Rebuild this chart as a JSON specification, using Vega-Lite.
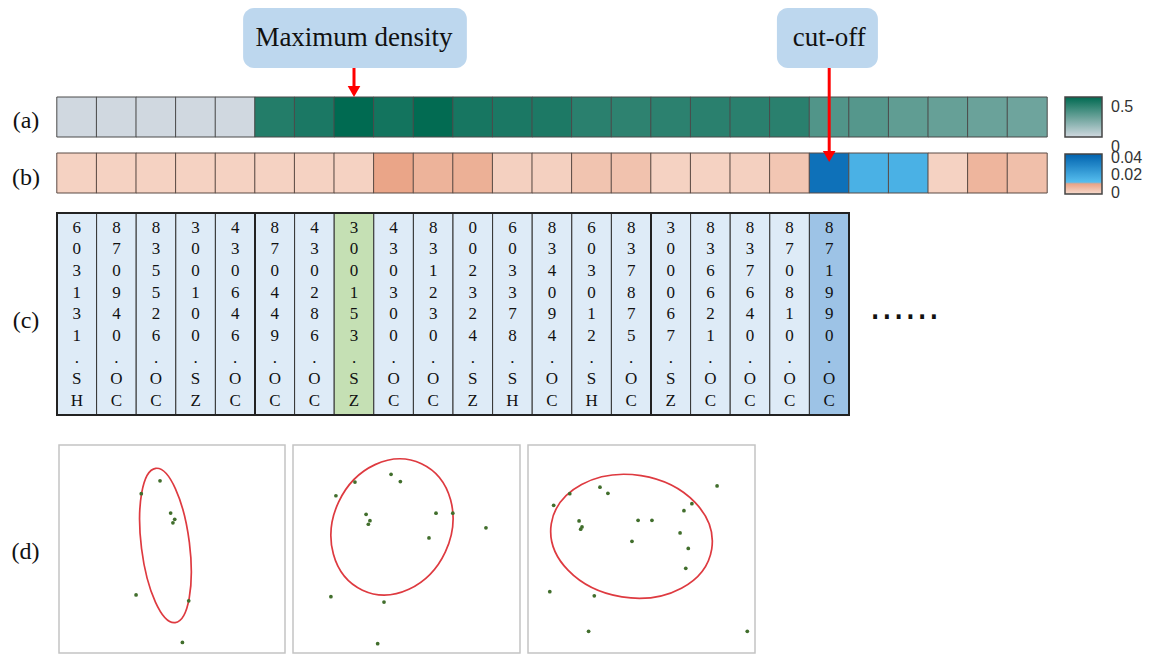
{
  "$schema": "https://vega.github.io/schema/vega-lite/v6.json",
  "background": "white",
  "padding": 0,
  "bounds": "flush",
  "spacing": 0,
  "config": {"view": {"stroke": null}, "font": "Liberation Serif"},
  "datasets": {
    "cells": [
      {"col": 0, "density": 0, "delta": 0.0004},
      {"col": 1, "density": 0, "delta": 0.0004},
      {"col": 2, "density": 0, "delta": 0.0004},
      {"col": 3, "density": 0, "delta": 0.0004},
      {"col": 4, "density": 0, "delta": 0.0004},
      {"col": 5, "density": 0.56, "delta": 0.0004},
      {"col": 6, "density": 0.587, "delta": 0.0004},
      {"col": 7, "density": 0.675, "delta": 0.0004},
      {"col": 8, "density": 0.614, "delta": 0.0097},
      {"col": 9, "density": 0.668, "delta": 0.0068},
      {"col": 10, "density": 0.6, "delta": 0.0075},
      {"col": 11, "density": 0.587, "delta": 0.0008},
      {"col": 12, "density": 0.58, "delta": 0.0008},
      {"col": 13, "density": 0.54, "delta": 0.0033},
      {"col": 14, "density": 0.527, "delta": 0.0037},
      {"col": 15, "density": 0.533, "delta": 0.0004},
      {"col": 16, "density": 0.54, "delta": 0.0004},
      {"col": 17, "density": 0.54, "delta": 0.0008},
      {"col": 18, "density": 0.54, "delta": 0.0029},
      {"col": 19, "density": 0.412, "delta": 0.0387},
      {"col": 20, "density": 0.398, "delta": 0.0164},
      {"col": 21, "density": 0.365, "delta": 0.0164},
      {"col": 22, "density": 0.344, "delta": 0.0004},
      {"col": 23, "density": 0.331, "delta": 0.0064},
      {"col": 24, "density": 0.317, "delta": 0.0043}
    ],
    "stocks": [
      {"col": 0, "ticker": "603131.SH", "role": "other", "lines": ["6","0","3","1","3","1",".","S","H"]},
      {"col": 1, "ticker": "870940.OC", "role": "other", "lines": ["8","7","0","9","4","0",".","O","C"]},
      {"col": 2, "ticker": "835526.OC", "role": "other", "lines": ["8","3","5","5","2","6",".","O","C"]},
      {"col": 3, "ticker": "300100.SZ", "role": "other", "lines": ["3","0","0","1","0","0",".","S","Z"]},
      {"col": 4, "ticker": "430646.OC", "role": "other", "lines": ["4","3","0","6","4","6",".","O","C"]},
      {"col": 5, "ticker": "870449.OC", "role": "other", "lines": ["8","7","0","4","4","9",".","O","C"]},
      {"col": 6, "ticker": "430286.OC", "role": "other", "lines": ["4","3","0","2","8","6",".","O","C"]},
      {"col": 7, "ticker": "300153.SZ", "role": "max", "lines": ["3","0","0","1","5","3",".","S","Z"]},
      {"col": 8, "ticker": "430300.OC", "role": "other", "lines": ["4","3","0","3","0","0",".","O","C"]},
      {"col": 9, "ticker": "831230.OC", "role": "other", "lines": ["8","3","1","2","3","0",".","O","C"]},
      {"col": 10, "ticker": "002324.SZ", "role": "other", "lines": ["0","0","2","3","2","4",".","S","Z"]},
      {"col": 11, "ticker": "603378.SH", "role": "other", "lines": ["6","0","3","3","7","8",".","S","H"]},
      {"col": 12, "ticker": "834094.OC", "role": "other", "lines": ["8","3","4","0","9","4",".","O","C"]},
      {"col": 13, "ticker": "603012.SH", "role": "other", "lines": ["6","0","3","0","1","2",".","S","H"]},
      {"col": 14, "ticker": "837875.OC", "role": "other", "lines": ["8","3","7","8","7","5",".","O","C"]},
      {"col": 15, "ticker": "300067.SZ", "role": "other", "lines": ["3","0","0","0","6","7",".","S","Z"]},
      {"col": 16, "ticker": "836621.OC", "role": "other", "lines": ["8","3","6","6","2","1",".","O","C"]},
      {"col": 17, "ticker": "837640.OC", "role": "other", "lines": ["8","3","7","6","4","0",".","O","C"]},
      {"col": 18, "ticker": "870810.OC", "role": "other", "lines": ["8","7","0","8","1","0",".","O","C"]},
      {"col": 19, "ticker": "871990.OC", "role": "cutoff", "lines": ["8","7","1","9","9","0",".","O","C"]}
    ],
    "callouts": [
      {"label": "Maximum density", "col": 7, "x0": 4.2, "x1": 9.85, "tip": 9.7},
      {"label": "cut-off", "col": 19, "x0": 17.68, "x1": 20.23, "tip": 16.2}
    ],
    "rowlabels": [
      {"label": "(a)", "ypos": 12.1},
      {"label": "(b)", "ypos": 17.8},
      {"label": "(c)", "ypos": 32.1}
    ],
    "clusters": [
      {"panel": 1, "x": 4.47, "y": 8.28}, {"panel": 1, "x": 3.64, "y": 7.66}, {"panel": 1, "x": 4.94, "y": 6.73},
      {"panel": 1, "x": 5.12, "y": 6.43}, {"panel": 1, "x": 5.04, "y": 6.26}, {"panel": 1, "x": 3.41, "y": 2.79},
      {"panel": 1, "x": 5.74, "y": 2.51}, {"panel": 1, "x": 5.46, "y": 0.51},
      {"panel": 2, "x": 4.32, "y": 8.59}, {"panel": 2, "x": 2.73, "y": 8.22}, {"panel": 2, "x": 4.73, "y": 8.24},
      {"panel": 2, "x": 1.89, "y": 7.56}, {"panel": 2, "x": 3.22, "y": 6.67}, {"panel": 2, "x": 3.39, "y": 6.36},
      {"panel": 2, "x": 3.32, "y": 6.19}, {"panel": 2, "x": 6.3, "y": 6.72}, {"panel": 2, "x": 7.04, "y": 6.72},
      {"panel": 2, "x": 8.5, "y": 6.02}, {"panel": 2, "x": 5.99, "y": 5.53}, {"panel": 2, "x": 1.67, "y": 2.71},
      {"panel": 2, "x": 4.01, "y": 2.45}, {"panel": 2, "x": 3.73, "y": 0.45},
      {"panel": 3, "x": 8.33, "y": 8.03}, {"panel": 3, "x": 3.17, "y": 7.97}, {"panel": 3, "x": 1.84, "y": 7.66},
      {"panel": 3, "x": 3.52, "y": 7.68}, {"panel": 3, "x": 1.13, "y": 7.1}, {"panel": 3, "x": 7.22, "y": 7.18},
      {"panel": 3, "x": 6.87, "y": 6.84}, {"panel": 3, "x": 2.25, "y": 6.35}, {"panel": 3, "x": 4.85, "y": 6.38},
      {"panel": 3, "x": 5.46, "y": 6.38}, {"panel": 3, "x": 2.38, "y": 6.06}, {"panel": 3, "x": 2.32, "y": 5.95},
      {"panel": 3, "x": 6.7, "y": 5.77}, {"panel": 3, "x": 4.58, "y": 5.37}, {"panel": 3, "x": 7.06, "y": 5.03},
      {"panel": 3, "x": 6.95, "y": 4.07}, {"panel": 3, "x": 0.96, "y": 2.95}, {"panel": 3, "x": 2.92, "y": 2.75},
      {"panel": 3, "x": 2.67, "y": 1.04}, {"panel": 3, "x": 9.66, "y": 1.04}
    ]
  },
  "vconcat": [
    {
      "width": 1160,
      "height": 445,
      "view": {"stroke": null},
      "layer": [
        {
          "data": {"name": "callouts"},
          "mark": {"type": "rect", "fill": "#bdd7ee", "cornerRadius": 11},
          "encoding": {
            "x": {"field": "x0", "type": "quantitative", "scale": {"domain": [-1.9394, 27.3535], "nice": false, "zero": false}, "axis": null},
            "x2": {"field": "x1"},
            "y": {"datum": 0.8, "type": "quantitative", "scale": {"domain": [0, 44.5], "reverse": true, "nice": false, "zero": false}, "axis": null},
            "y2": {"datum": 6.8}
          }
        },
        {
          "data": {"name": "callouts"},
          "mark": {"type": "text", "font": "Liberation Serif", "fontSize": 27, "color": "#111111", "baseline": "middle"},
          "encoding": {
            "x": {"field": "col", "type": "quantitative", "scale": {"domain": [-1.9394, 27.3535], "nice": false, "zero": false}, "axis": null},
            "y": {"datum": 3.8, "type": "quantitative", "scale": {"domain": [0, 44.5], "reverse": true, "nice": false, "zero": false}, "axis": null},
            "text": {"field": "label", "type": "nominal"}
          }
        },
        {
          "data": {"name": "cells"},
          "mark": {"type": "square", "size": 1600, "filled": true, "stroke": "#4a4a4a", "strokeWidth": 1, "opacity": 1},
          "encoding": {
            "x": {"field": "col", "type": "quantitative", "scale": {"domain": [-1.9394, 27.3535], "nice": false, "zero": false}, "axis": null},
            "y": {"datum": 11.7, "type": "quantitative", "scale": {"domain": [0, 44.5], "reverse": true, "nice": false, "zero": false}, "axis": null},
            "color": {
              "field": "density", "type": "quantitative",
              "scale": {"domain": [0, 0.675], "range": ["#d0d8e0", "#006a51"], "interpolate": "rgb", "clamp": true},
              "legend": {"orient": "none", "legendX": 1065, "legendY": 97, "direction": "vertical", "title": null,
                "gradientLength": 40, "gradientThickness": 37, "values": [0, 0.5], "format": "~g",
                "labelExpr": "datum.value === 0 ? ['', datum.label] : datum.label",
                "labelFont": "Liberation Sans", "labelFontSize": 16, "labelColor": "#333333", "labelOffset": 9,
                "labelOverlap": false, "gradientStrokeColor": "#444444", "gradientStrokeWidth": 1.5, "padding": 0}
            }
          }
        },
        {
          "data": {"name": "cells"},
          "mark": {"type": "square", "size": 1600, "filled": true, "stroke": "#5a4a44", "strokeWidth": 1, "opacity": 1},
          "encoding": {
            "x": {"field": "col", "type": "quantitative", "scale": {"domain": [-1.9394, 27.3535], "nice": false, "zero": false}, "axis": null},
            "y": {"datum": 17.3, "type": "quantitative", "scale": {"domain": [0, 44.5], "reverse": true, "nice": false, "zero": false}, "axis": null},
            "fill": {
              "field": "delta", "type": "quantitative",
              "scale": {"domain": [-0.0015, 0.011, 0.0111, 0.044], "range": ["#f7dbce", "#e89f80", "#58c0f0", "#0062ae"], "interpolate": "rgb", "clamp": true},
              "legend": {"orient": "none", "legendX": 1065, "legendY": 154, "direction": "vertical", "title": null,
                "gradientLength": 40, "gradientThickness": 37, "values": [0, 0.02, 0.04], "format": "~g",
                "labelFont": "Liberation Sans", "labelFontSize": 16, "labelColor": "#333333", "labelOffset": 9,
                "labelOverlap": false, "gradientStrokeColor": "#444444", "gradientStrokeWidth": 1.5, "padding": 0}
            }
          }
        },
        {
          "data": {"name": "stocks"},
          "mark": {"type": "point", "shape": "M -0.196 -1 L 0.196 -1 L 0.196 1 L -0.196 1 Z", "size": 40804, "filled": true, "stroke": "#333333", "strokeWidth": 1, "opacity": 1},
          "encoding": {
            "x": {"field": "col", "type": "quantitative", "scale": {"domain": [-1.9394, 27.3535], "nice": false, "zero": false}, "axis": null},
            "y": {"datum": 31.4, "type": "quantitative", "scale": {"domain": [0, 44.5], "reverse": true, "nice": false, "zero": false}, "axis": null},
            "color": {"field": "role", "type": "nominal", "scale": {"domain": ["other", "max", "cutoff"], "range": ["#deebf7", "#c5e0b4", "#9dc3e6"]}, "legend": null}
          }
        },
        {
          "data": {"name": "stocks"},
          "mark": {"type": "text", "font": "Liberation Serif", "fontSize": 17, "lineHeight": 21.7, "baseline": "top", "color": "#111111"},
          "encoding": {
            "x": {"field": "col", "type": "quantitative", "scale": {"domain": [-1.9394, 27.3535], "nice": false, "zero": false}, "axis": null},
            "y": {"datum": 21.95, "type": "quantitative", "scale": {"domain": [0, 44.5], "reverse": true, "nice": false, "zero": false}, "axis": null},
            "text": {"field": "lines", "type": "nominal"}
          }
        },
        {
          "data": {"values": [{"edge": 4.5}, {"edge": 14.5}]},
          "mark": {"type": "rule", "color": "#222222", "strokeWidth": 2},
          "encoding": {
            "x": {"field": "edge", "type": "quantitative", "scale": {"domain": [-1.9394, 27.3535], "nice": false, "zero": false}, "axis": null},
            "y": {"datum": 21.3, "type": "quantitative", "scale": {"domain": [0, 44.5], "reverse": true, "nice": false, "zero": false}, "axis": null},
            "y2": {"datum": 41.5}
          }
        },
        {
          "data": {"values": [{"table": "codes"}]},
          "mark": {"type": "rect", "fill": "transparent", "stroke": "#222222", "strokeWidth": 2},
          "encoding": {
            "x": {"datum": -0.5, "type": "quantitative", "scale": {"domain": [-1.9394, 27.3535], "nice": false, "zero": false}, "axis": null},
            "x2": {"datum": 19.5},
            "y": {"datum": 21.3, "type": "quantitative", "scale": {"domain": [0, 44.5], "reverse": true, "nice": false, "zero": false}, "axis": null},
            "y2": {"datum": 41.5}
          }
        },
        {
          "data": {"name": "callouts"},
          "mark": {"type": "rule", "color": "#ff0000", "strokeWidth": 3, "yOffset": -7},
          "encoding": {
            "x": {"field": "col", "type": "quantitative", "scale": {"domain": [-1.9394, 27.3535], "nice": false, "zero": false}, "axis": null},
            "y": {"field": "tip", "type": "quantitative", "scale": {"domain": [0, 44.5], "reverse": true, "nice": false, "zero": false}, "axis": null},
            "y2": {"datum": 6.8}
          }
        },
        {
          "data": {"name": "callouts"},
          "mark": {"type": "point", "shape": "triangle-down", "size": 160, "filled": true, "color": "#ff0000", "opacity": 1, "yOffset": -5.5},
          "encoding": {
            "x": {"field": "col", "type": "quantitative", "scale": {"domain": [-1.9394, 27.3535], "nice": false, "zero": false}, "axis": null},
            "y": {"field": "tip", "type": "quantitative", "scale": {"domain": [0, 44.5], "reverse": true, "nice": false, "zero": false}, "axis": null}
          }
        },
        {
          "data": {"name": "rowlabels"},
          "mark": {"type": "text", "font": "Liberation Serif", "fontSize": 24, "color": "#111111", "baseline": "middle"},
          "encoding": {
            "x": {"datum": -1.283, "type": "quantitative", "scale": {"domain": [-1.9394, 27.3535], "nice": false, "zero": false}, "axis": null},
            "y": {"field": "ypos", "type": "quantitative", "scale": {"domain": [0, 44.5], "reverse": true, "nice": false, "zero": false}, "axis": null},
            "text": {"field": "label", "type": "nominal"}
          }
        },
        {
          "data": {"values": [{"more": "......"}]},
          "mark": {"type": "text", "font": "DejaVu Sans", "fontSize": 37, "color": "#111111", "baseline": "alphabetic"},
          "encoding": {
            "x": {"datum": 20.9, "type": "quantitative", "scale": {"domain": [-1.9394, 27.3535], "nice": false, "zero": false}, "axis": null},
            "y": {"datum": 31.9, "type": "quantitative", "scale": {"domain": [0, 44.5], "reverse": true, "nice": false, "zero": false}, "axis": null},
            "text": {"field": "more", "type": "nominal"}
          }
        }
      ],
      "resolve": {"scale": {"color": "independent", "fill": "independent"}}
    },
    {
      "spacing": 8,
      "bounds": "flush",
      "hconcat": [
        {
          "width": 51,
          "height": 208,
          "view": {"stroke": null},
          "data": {"values": [{"label": "(d)"}]},
          "mark": {"type": "text", "font": "Liberation Serif", "fontSize": 24, "color": "#111111", "baseline": "middle", "dy": 3},
          "encoding": {"text": {"field": "label", "type": "nominal"}}
        },
        {
          "width": 226,
          "height": 208,
          "view": {"stroke": "#c4c4c4", "strokeWidth": 1.5},
          "layer": [
            {
              "data": {"values": [{"cx": 4.71, "cy": 5.17}]},
              "mark": {"type": "point", "shape": "M0,-1C0.1712,-1,0.31,-0.5523,0.31,0C0.31,0.5523,0.1712,1,0,1C-0.1712,1,-0.31,0.5523,-0.31,0C-0.31,-0.5523,-0.1712,-1,0,-1Z", "size": 24180, "angle": -7.2, "filled": false, "color": "#de3a40", "strokeWidth": 1.7, "opacity": 1},
              "encoding": {
                "x": {"field": "cx", "type": "quantitative", "scale": {"domain": [0, 10], "nice": false, "zero": false}, "axis": null},
                "y": {"field": "cy", "type": "quantitative", "scale": {"domain": [0, 10], "nice": false, "zero": false}, "axis": null}
              }
            },
            {
              "data": {"name": "clusters"},
              "transform": [{"filter": "datum.panel == 1"}],
              "mark": {"type": "circle", "size": 14, "color": "#416e2c", "opacity": 1},
              "encoding": {
                "x": {"field": "x", "type": "quantitative", "scale": {"domain": [0, 10], "nice": false, "zero": false}, "axis": null},
                "y": {"field": "y", "type": "quantitative", "scale": {"domain": [0, 10], "nice": false, "zero": false}, "axis": null}
              }
            }
          ]
        },
        {
          "width": 227,
          "height": 208,
          "view": {"stroke": "#c4c4c4", "strokeWidth": 1.5},
          "layer": [
            {
              "data": {"values": [{"cx": 4.36, "cy": 6.06}]},
              "mark": {"type": "point", "shape": "M0,-1C0.4661,-1,0.844,-0.5523,0.844,0C0.844,0.5523,0.4661,1,0,1C-0.4661,1,-0.844,0.5523,-0.844,0C-0.844,-0.5523,-0.4661,-1,0,-1Z", "size": 19488, "angle": 25, "filled": false, "color": "#de3a40", "strokeWidth": 1.7, "opacity": 1},
              "encoding": {
                "x": {"field": "cx", "type": "quantitative", "scale": {"domain": [0, 10], "nice": false, "zero": false}, "axis": null},
                "y": {"field": "cy", "type": "quantitative", "scale": {"domain": [0, 10], "nice": false, "zero": false}, "axis": null}
              }
            },
            {
              "data": {"name": "clusters"},
              "transform": [{"filter": "datum.panel == 2"}],
              "mark": {"type": "circle", "size": 14, "color": "#416e2c", "opacity": 1},
              "encoding": {
                "x": {"field": "x", "type": "quantitative", "scale": {"domain": [0, 10], "nice": false, "zero": false}, "axis": null},
                "y": {"field": "y", "type": "quantitative", "scale": {"domain": [0, 10], "nice": false, "zero": false}, "axis": null}
              }
            }
          ]
        },
        {
          "width": 227,
          "height": 208,
          "view": {"stroke": "#c4c4c4", "strokeWidth": 1.5},
          "layer": [
            {
              "data": {"values": [{"cx": 4.56, "cy": 5.61}]},
              "mark": {"type": "point", "shape": "M0,-1C0.4175,-1,0.756,-0.5523,0.756,0C0.756,0.5523,0.4175,1,0,1C-0.4175,1,-0.756,0.5523,-0.756,0C-0.756,-0.5523,-0.4175,-1,0,-1Z", "size": 26374, "angle": 99, "filled": false, "color": "#de3a40", "strokeWidth": 1.7, "opacity": 1},
              "encoding": {
                "x": {"field": "cx", "type": "quantitative", "scale": {"domain": [0, 10], "nice": false, "zero": false}, "axis": null},
                "y": {"field": "cy", "type": "quantitative", "scale": {"domain": [0, 10], "nice": false, "zero": false}, "axis": null}
              }
            },
            {
              "data": {"name": "clusters"},
              "transform": [{"filter": "datum.panel == 3"}],
              "mark": {"type": "circle", "size": 14, "color": "#416e2c", "opacity": 1},
              "encoding": {
                "x": {"field": "x", "type": "quantitative", "scale": {"domain": [0, 10], "nice": false, "zero": false}, "axis": null},
                "y": {"field": "y", "type": "quantitative", "scale": {"domain": [0, 10], "nice": false, "zero": false}, "axis": null}
              }
            }
          ]
        }
      ]
    }
  ]
}
